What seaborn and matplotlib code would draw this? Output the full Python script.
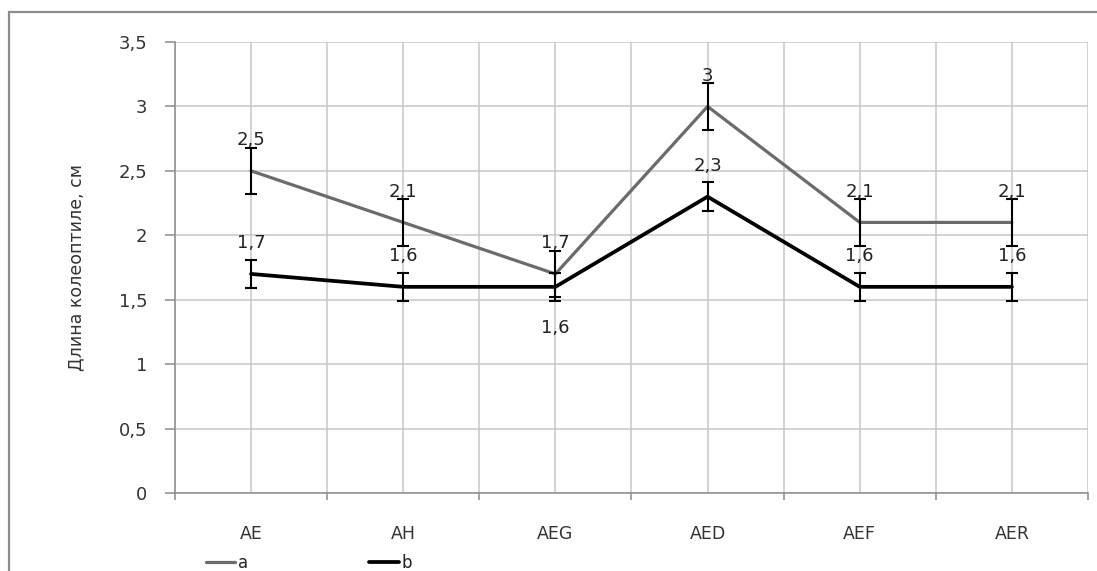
import matplotlib
matplotlib.use("Agg")
import matplotlib.pyplot as plt
import matplotlib.patches as mpatches
from matplotlib.ticker import FixedLocator, MultipleLocator, FuncFormatter
import seaborn as sns
import pandas as pd

# Coleoptile length by treatment, two series with error margins
categories = ["AE", "AH", "AEG", "AED", "AEF", "AER"]
series_a = [2.5, 2.1, 1.7, 3.0, 2.1, 2.1]
series_b = [1.7, 1.6, 1.6, 2.3, 1.6, 1.6]
err_a = [0.18, 0.18, 0.18, 0.18, 0.18, 0.18]
err_b = [0.11, 0.11, 0.11, 0.11, 0.11, 0.11]
series_names = ["a", "b"]
y_label = "Длина колеоптиле, см"

sns.set_theme(style="white")
plt.rcParams["font.family"] = ["DejaVu Sans"]

fig = plt.figure(figsize=(10.97, 5.71), dpi=100)
ax = fig.add_axes([0.1595, 0.1366, 0.8323, 0.7898])

# Outer chart frame (runs off the right and bottom edges)
frame = mpatches.Rectangle((9 / 1097, -0.2), 1.2, 1.2 - 12 / 571,
                           transform=fig.transFigure, fill=False,
                           edgecolor="#8c8c8c", linewidth=1.6, zorder=0)
fig.patches.append(frame)

df = pd.DataFrame({"cat": categories * 2,
                   "val": series_a + series_b,
                   "series": ["a"] * 6 + ["b"] * 6})

styles = {"a": dict(color="#6b6b6b", lw=2.3), "b": dict(color="#000000", lw=2.7)}
for name in series_names:
    sub = df[df["series"] == name]
    sns.lineplot(data=sub, x="cat", y="val", ax=ax, color=styles[name]["color"],
                 linewidth=styles[name]["lw"], label=name, sort=False, zorder=3)

for vals, errs in ((series_a, err_a), (series_b, err_b)):
    ax.errorbar(categories, vals, yerr=errs, fmt="none", ecolor="black",
                elinewidth=1.5, capsize=4.5, capthick=1.5, zorder=4)

# Value labels
fmt = lambda v: f"{v:g}".replace(".", ",")
for i, v in enumerate(series_a):
    ax.annotate(fmt(v), (i, v), xytext=(0, 22), textcoords="offset points",
                ha="center", va="center", fontsize=13, color="#222222", zorder=5)
for i, v in enumerate(series_b):
    dy = -29.5 if categories[i] == "AEG" else 22
    ax.annotate(fmt(v), (i, v), xytext=(0, dy), textcoords="offset points",
                ha="center", va="center", fontsize=13, color="#222222", zorder=5)

ax.set_xlim(-0.5, len(categories) - 0.5)
ax.set_ylim(0, 3.5)
ax.yaxis.set_major_locator(MultipleLocator(0.5))
ax.yaxis.set_major_formatter(FuncFormatter(lambda v, p: f"{v:g}".replace(".", ",")))
ax.xaxis.set_minor_locator(FixedLocator([i - 0.5 for i in range(len(categories) + 1)]))

ax.grid(True, which="both", axis="x", color="#c8c8c8", linewidth=1.1)
ax.grid(True, which="major", axis="y", color="#c8c8c8", linewidth=1.1)

for s in ("top", "right"):
    ax.spines[s].set_visible(False)
for s in ("left", "bottom"):
    ax.spines[s].set_color("#8c8c8c")
    ax.spines[s].set_linewidth(1.1)

ax.tick_params(axis="x", which="major", length=0, pad=23, labelsize=12.5, labelcolor="#333333")
ax.tick_params(axis="x", which="minor", length=5, width=1.1, color="#8c8c8c", direction="out", bottom=True)
ax.tick_params(axis="y", which="major", length=7, width=1.1, color="#8c8c8c", direction="out",
               left=True, pad=13, labelsize=13, labelcolor="#333333")

ax.set_xlabel("")
ax.set_ylabel(y_label, fontsize=12.5, color="#333333", labelpad=24)

handles, labels = ax.get_legend_handles_labels()
ax.get_legend().remove()
fig.legend(handles, labels, loc="center left", bbox_to_anchor=(206 / 1097, 0.014),
           ncol=2, frameon=False, fontsize=12, handlelength=1.75, handletextpad=0.15,
           columnspacing=7.3, borderpad=0, borderaxespad=0, labelcolor="#222222")

fig.savefig("out.png", dpi=100)
